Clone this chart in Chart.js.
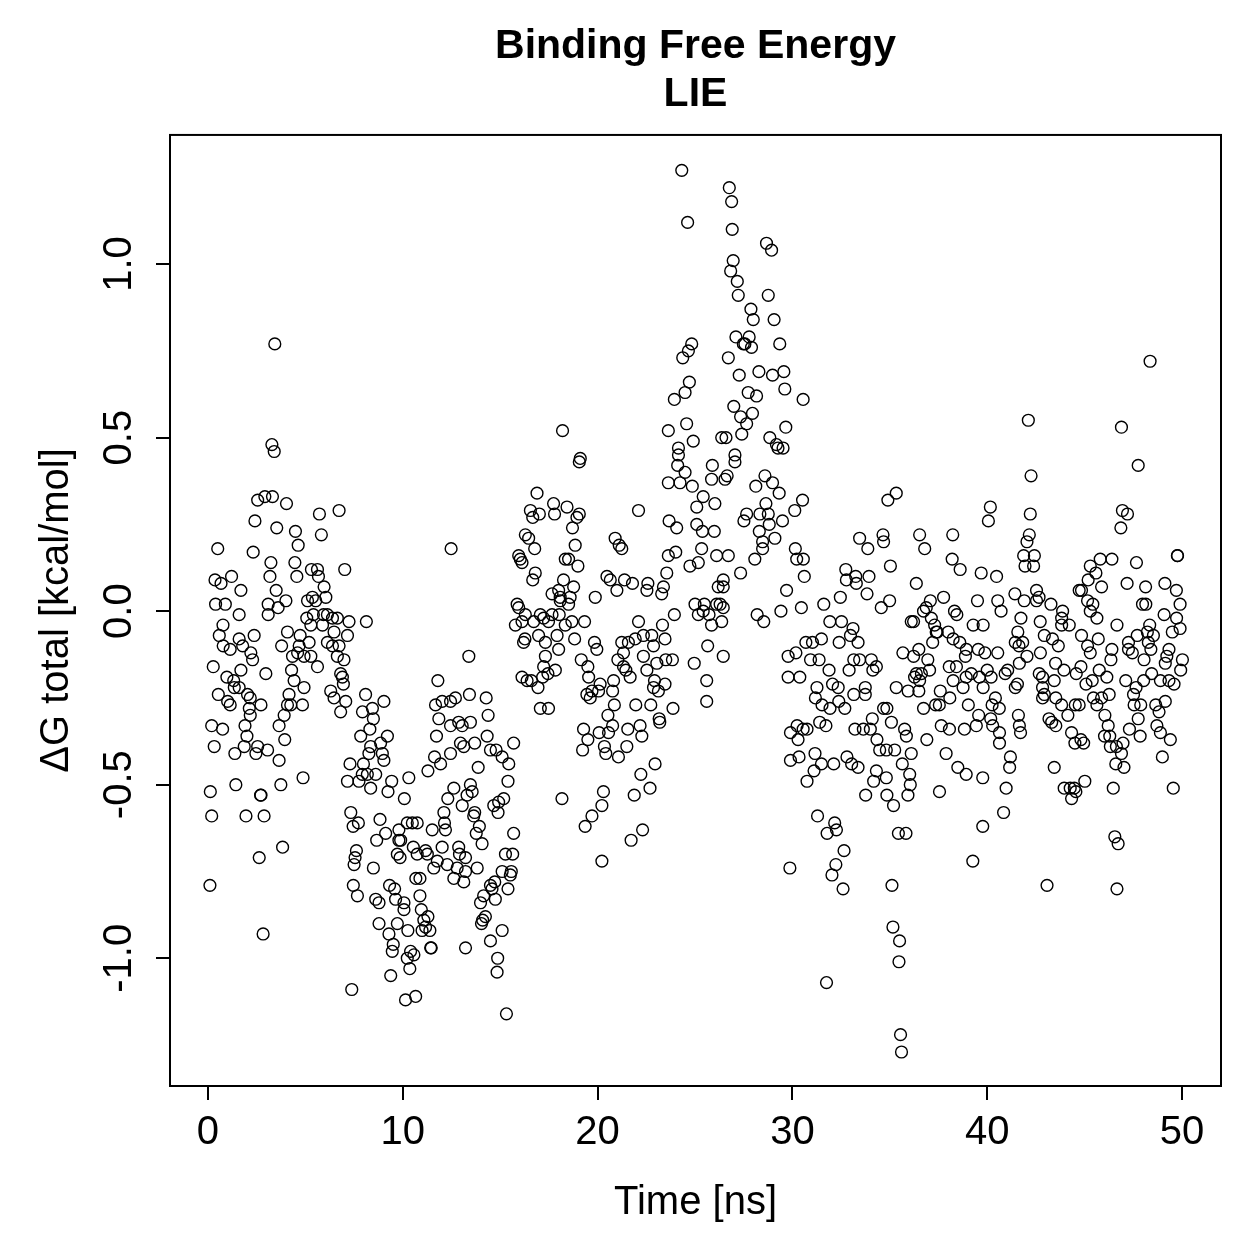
<!DOCTYPE html>
<html>
<head>
<meta charset="utf-8">
<script src="https://cdn.jsdelivr.net/npm/chart.js@4.4.0/dist/chart.umd.min.js"></script>
<style>
  html, body { margin: 0; padding: 0; background: #fff; }
</style>
</head>
<body>
<canvas id="lieChart" width="1259" height="1259"></canvas>
<script>
/* tick labels */
const xTicks = [0, 10, 20, 30, 40, 50];
const yTicks = [-1.0, -0.5, 0.0, 0.5, 1.0];

/* [time ns, dG kcal/mol], in time segments */
const seg1 = [
  [2.55,0.32],[2.92,0.33],[3.31,0.33],[4.03,0.31],[2.41,0.26],[3.53,0.24],[4.49,0.23],[5.72,0.28],[6.73,0.29],[5.82,0.22],
  [0.50,0.18],[2.32,0.17],[4.63,0.19],[12.48,0.18],[3.23,0.14],[4.46,0.14],[7.02,0.12],[3.18,0.10],[4.56,0.10],[5.31,0.12],
  [5.62,0.12],[5.67,0.10],[0.36,0.09],[0.67,0.08],[1.21,0.10],[1.69,0.06],[3.50,0.06],[4.00,0.03],[5.96,0.07],[5.36,0.04],
  [5.11,0.03],[5.53,0.03],[6.05,0.04],[0.39,0.02],[0.89,0.02],[3.09,0.02],[3.60,0.01],[1.60,-0.01],[3.09,-0.01],[5.07,-0.02],
  [5.41,-0.01],[5.93,-0.01],[6.13,-0.01],[6.39,-0.02],[6.64,-0.02],[7.24,-0.03],[8.13,-0.03],[5.28,-0.04],[5.88,-0.04],[0.77,-0.04],
  [0.58,-0.07],[2.37,-0.07],[4.08,-0.06],[4.73,-0.07],[6.47,-0.06],[7.16,-0.07],[1.60,-0.08],[5.19,-0.09],[6.13,-0.09],[6.73,-0.10],
  [0.78,-0.10],[1.14,-0.11],[1.78,-0.10],[3.78,-0.10],[4.68,-0.10],[6.39,-0.10],[2.20,-0.12],[2.29,-0.14],[4.34,-0.13],[4.60,-0.12],
  [4.93,-0.13],[5.28,-0.13],[5.62,-0.16],[6.64,-0.13],[6.98,-0.14],[0.27,-0.16],[1.69,-0.17],[2.97,-0.18],[4.29,-0.17],[0.97,-0.19],
  [1.32,-0.20],[6.81,-0.18],[6.90,-0.19],[4.42,-0.20],[4.93,-0.22],[6.95,-0.21],[11.80,-0.20],[0.53,-0.24],[1.35,-0.22],[1.60,-0.22],
  [2.03,-0.24],[1.01,-0.26],[1.14,-0.27],[2.17,-0.25],[2.12,-0.28],[2.72,-0.27],[4.16,-0.24],[6.30,-0.23],[6.47,-0.25],[7.07,-0.26],
  [8.09,-0.24],[9.03,-0.26],[4.08,-0.27],[4.25,-0.27],[4.85,-0.27],[2.17,-0.30],[3.91,-0.30],[6.81,-0.29],[7.93,-0.29],[8.44,-0.28],
  [8.49,-0.31],[11.68,-0.27],[12.02,-0.26],[12.45,-0.26],[11.85,-0.31],[12.45,-0.33],[0.19,-0.33],[0.75,-0.34],[1.90,-0.33],[3.65,-0.33],
  [2.00,-0.36],[7.84,-0.36],[8.31,-0.34],[9.21,-0.36],[8.86,-0.38],[11.73,-0.36],[0.32,-0.39],[3.94,-0.37],[1.86,-0.39],[8.35,-0.39],
  [2.55,-0.39],[3.06,-0.40],[1.38,-0.41],[2.46,-0.41],[8.95,-0.41],[8.26,-0.41],[3.65,-0.43],[7.29,-0.44],[7.98,-0.44],[9.03,-0.43],
  [11.63,-0.42],[11.94,-0.44],[12.45,-0.41],[3.43,0.77],[3.28,0.48],[3.40,0.46],
  [0.12,-0.52],[1.43,-0.50],[2.72,-0.53],[2.70,-0.53],[3.74,-0.50],[4.88,-0.48],[0.19,-0.59],[1.95,-0.59],[2.88,-0.59],[3.83,-0.68],
  [2.63,-0.71],[0.10,-0.79],[2.83,-0.93],[7.16,-0.49],[7.75,-0.49],[7.92,-0.47],[8.18,-0.47],[8.61,-0.47],[8.35,-0.51],[9.43,-0.49],
  [9.24,-0.52],[10.31,-0.48],[11.29,-0.46],[10.08,-0.54],[7.33,-0.58],[7.45,-0.62],[7.72,-0.61],[8.83,-0.60],[8.66,-0.66],[9.12,-0.64],
  [9.80,-0.63],[10.23,-0.61],[10.49,-0.61],[10.74,-0.61],[11.51,-0.63],[12.11,-0.58],[12.31,-0.54],[12.62,-0.51],[9.80,-0.66],[9.89,-0.66],
  [12.14,-0.61],[12.19,-0.63],[7.62,-0.69],[7.55,-0.71],[7.50,-0.73],[8.49,-0.74],[9.72,-0.70],[9.86,-0.71],[10.54,-0.68],[10.74,-0.70],
  [11.17,-0.69],[11.26,-0.70],[11.77,-0.72],[11.59,-0.74],[12.28,-0.73],[12.02,-0.68],[12.62,-0.77],[7.46,-0.79],[7.67,-0.82],[9.32,-0.79],
  [9.58,-0.80],[8.61,-0.83],[8.78,-0.84],[9.63,-0.83],[10.06,-0.84],[10.06,-0.86],[10.67,-0.77],[10.88,-0.77],[10.88,-0.82],[10.95,-0.86],
  [11.29,-0.88],[11.08,-0.89],[11.17,-0.91],[11.39,-0.92],[10.99,-0.92],[11.46,-0.97],[11.43,-0.97],[8.78,-0.90],[9.72,-0.90],[9.29,-0.93],
  [10.26,-0.92],[9.51,-0.96],[9.46,-0.98],[10.23,-1.00],[10.40,-0.98],[10.57,-0.99],[10.36,-1.03],[9.38,-1.05],[7.38,-1.09],[10.14,-1.12],
  [10.66,-1.11]
];

const seg2 = [
  [24.32,1.27],[24.62,1.12],[24.83,0.77],[24.66,0.75],[24.37,0.73],[24.71,0.66],[24.49,0.63],[23.94,0.61],[24.57,0.54],[23.63,0.52],
  [24.91,0.49],[18.20,0.52],[24.15,0.47],[24.15,0.45],[19.11,0.44],[19.06,0.43],[26.37,0.50],
  [16.89,0.34],[16.55,0.29],[16.67,0.27],[17.01,0.28],[17.74,0.31],[17.79,0.28],[18.43,0.30],[19.06,0.28],[18.94,0.27],[18.71,0.24],
  [22.10,0.29],[23.63,0.37],[24.23,0.37],[24.11,0.42],[24.49,0.40],[24.86,0.36],[25.42,0.33],[25.09,0.30],[25.89,0.42],[25.85,0.38],
  [26.02,0.31],[23.67,0.26],[24.06,0.24],[25.09,0.25],[25.38,0.23],[25.99,0.23],[16.29,0.22],[16.46,0.21],[16.77,0.18],[20.90,0.21],
  [21.11,0.19],[21.24,0.18],[18.85,0.19],[15.95,0.16],[16.03,0.15],[16.12,0.14],[18.34,0.15],[18.51,0.15],[18.99,0.13],[23.63,0.16],
  [24.01,0.17],[25.34,0.18],[26.11,0.16],[24.74,0.13],[25.17,0.14],[23.55,0.11],[16.80,0.11],[16.67,0.09],[18.25,0.09],[18.77,0.07],
  [17.66,0.05],[18.00,0.06],[20.48,0.10],[20.65,0.09],[20.99,0.06],[21.38,0.09],[21.79,0.08],[22.58,0.08],[22.53,0.06],[23.29,0.05],
  [23.38,0.07],[19.88,0.04],[15.87,0.02],[15.95,0.01],[18.59,0.04],[18.08,0.04],[18.08,0.03],[18.51,0.02],[17.66,-0.01],[17.06,-0.01],
  [17.23,-0.02],[16.29,-0.01],[15.78,-0.04],[16.12,-0.03],[16.72,-0.03],[17.48,-0.03],[18.03,-0.01],[18.34,-0.04],[18.68,-0.03],[19.33,-0.03],
  [22.10,-0.03],[23.33,-0.04],[23.94,-0.01],[25.00,0.02],[25.48,0.02],[25.17,-0.01],[25.72,-0.01],[25.42,0.00],[25.85,-0.04],[26.11,0.02],
  [26.19,0.07],[16.97,-0.07],[17.32,-0.09],[17.92,-0.07],[18.82,-0.08],[16.20,-0.09],[16.27,-0.08],[19.84,-0.09],[19.96,-0.11],[18.00,-0.11],
  [21.24,-0.09],[21.58,-0.09],[21.93,-0.08],[22.35,-0.07],[22.78,-0.07],[21.33,-0.12],[22.35,-0.13],[22.87,-0.10],[23.46,-0.08],[13.39,-0.13],
  [17.32,-0.13],[19.16,-0.14],[19.50,-0.16],[21.04,-0.14],[21.33,-0.16],[21.45,-0.17],[21.67,-0.19],[22.53,-0.17],[23.04,-0.15],[23.50,-0.14],
  [23.84,-0.14],[24.96,-0.15],[25.65,-0.10],[17.23,-0.16],[17.83,-0.17],[17.45,-0.18],[16.12,-0.19],[16.38,-0.20],[16.60,-0.20],[17.18,-0.19],
  [16.94,-0.22],[19.54,-0.19],[20.13,-0.21],[20.82,-0.20],[20.77,-0.23],[19.45,-0.24],[19.71,-0.23],[20.05,-0.23],[19.62,-0.25],[22.92,-0.20],
  [23.12,-0.23],[23.46,-0.21],[22.87,-0.22],[25.60,-0.20],[17.06,-0.28],[17.48,-0.28],[20.86,-0.27],[20.53,-0.30],[21.96,-0.27],[22.73,-0.27],
  [23.16,-0.31],[23.19,-0.32],[23.87,-0.28],[25.60,-0.26],[20.77,-0.33],[19.28,-0.34],[19.50,-0.37],[20.08,-0.35],[20.56,-0.35],[21.55,-0.34],
  [22.18,-0.33],[22.27,-0.36],[19.23,-0.40],[20.35,-0.39],[20.42,-0.41],[21.50,-0.39],[21.07,-0.42],[22.95,-0.44],[12.87,-0.32],[13.05,-0.33],
  [13.47,-0.32],[14.38,-0.30],[13.42,-0.24],[14.28,-0.25],[12.70,-0.25],[14.33,-0.36],[12.96,-0.38],[13.13,-0.39],[13.69,-0.38],[14.50,-0.40],
  [14.79,-0.40],[15.10,-0.42],[15.44,-0.44],[15.69,-0.38],[13.87,-0.45],
  [13.47,-0.50],[13.56,-0.52],[13.30,-0.53],[13.05,-0.56],[15.40,-0.49],[15.18,-0.54],[14.92,-0.55],[14.67,-0.56],[14.89,-0.58],[13.69,-0.58],
  [13.64,-0.59],[13.93,-0.62],[13.77,-0.64],[14.07,-0.67],[15.69,-0.64],[18.17,-0.54],[20.30,-0.52],[20.22,-0.56],[19.71,-0.59],[19.36,-0.62],
  [22.22,-0.47],[22.69,-0.51],[21.88,-0.53],[22.31,-0.63],[21.72,-0.66],[20.22,-0.72],[12.87,-0.68],[12.91,-0.70],[13.22,-0.71],[12.79,-0.74],
  [13.22,-0.75],[13.82,-0.74],[13.13,-0.78],[15.27,-0.70],[15.64,-0.70],[15.10,-0.75],[15.52,-0.76],[15.57,-0.75],[15.40,-0.80],[14.72,-0.78],
  [14.50,-0.79],[14.58,-0.80],[14.15,-0.82],[14.75,-0.83],[13.99,-0.84],[14.24,-0.88],[14.10,-0.89],[14.04,-0.90],[15.10,-0.92],[14.50,-0.95],
  [13.22,-0.97],[14.87,-1.00],[14.84,-1.04],[15.32,-1.16]
];

const seg3 = [
  [26.76,1.22],[26.88,1.18],[26.91,1.10],[28.67,1.06],[28.93,1.04],[26.96,1.01],[26.83,0.98],[27.17,0.95],[27.22,0.91],[28.76,0.91],
  [27.87,0.87],[27.99,0.84],[29.06,0.84],[27.10,0.79],[27.48,0.77],[27.78,0.79],[27.90,0.76],[27.56,0.77],[29.35,0.77],[26.71,0.73],
  [27.27,0.68],[28.28,0.69],[28.98,0.68],[29.56,0.69],[29.61,0.64],[30.55,0.61],[27.73,0.63],[28.16,0.62],[26.99,0.59],[27.95,0.57],
  [27.34,0.56],[27.65,0.54],[27.40,0.51],[29.66,0.53],[26.59,0.50],[28.84,0.50],[29.18,0.48],[29.26,0.47],[29.52,0.47],[27.05,0.45],
  [27.05,0.43],[26.65,0.39],[26.54,0.38],[28.59,0.39],[28.12,0.36],[28.98,0.37],[29.32,0.34],[30.52,0.32],[28.64,0.31],[28.33,0.28],
  [28.76,0.28],[30.12,0.29],[27.65,0.28],[27.51,0.26],[29.49,0.26],[28.81,0.25],[28.30,0.23],[29.10,0.21],[28.47,0.20],[28.47,0.18],
  [28.07,0.15],[26.71,0.16],[30.15,0.18],[30.22,0.15],[30.56,0.15],[30.61,0.10],[27.34,0.11],[26.45,0.09],[26.45,0.07],[26.29,0.02],
  [26.45,0.01],[26.37,-0.03],[29.70,0.06],[28.19,-0.01],[28.53,-0.03],[29.41,0.00],[30.46,0.01],[26.45,-0.13],[34.90,0.32],[35.33,0.34],
  [33.45,0.21],[33.87,0.18],[34.65,0.22],[34.68,0.20],[36.53,0.22],[36.79,0.18],[38.23,0.22],[38.20,0.15],[38.61,0.12],[39.69,0.11],
  [32.74,0.12],[32.77,0.09],[33.25,0.10],[33.28,0.08],[33.93,0.10],[35.03,0.13],[36.36,0.08],[33.83,0.05],[32.46,0.04],[31.61,0.02],
  [34.99,0.03],[34.56,0.01],[37.08,0.03],[37.76,0.04],[38.32,0.00],[38.44,-0.01],[39.50,0.03],[36.87,0.01],[36.73,0.00],[36.22,-0.03],
  [36.10,-0.03],[37.13,-0.02],[37.30,-0.04],[37.38,-0.06],[37.43,-0.06],[37.20,-0.09],[38.00,-0.06],[38.25,-0.08],[38.59,-0.09],[38.93,-0.11],
  [38.88,-0.13],[39.28,-0.04],[39.79,-0.04],[39.54,-0.11],[39.88,-0.12],[31.92,-0.03],[32.52,-0.03],[33.11,-0.05],[32.98,-0.07],[33.37,-0.09],
  [32.40,-0.09],[31.49,-0.08],[31.03,-0.09],[30.69,-0.09],[30.18,-0.12],[29.78,-0.13],[30.93,-0.14],[31.37,-0.14],[31.88,-0.17],[33.15,-0.14],
  [32.91,-0.17],[33.45,-0.14],[34.05,-0.14],[34.31,-0.16],[34.13,-0.17],[35.67,-0.12],[36.22,-0.13],[36.49,-0.11],[36.95,-0.14],[37.04,-0.17],
  [36.36,-0.18],[36.62,-0.18],[36.27,-0.19],[36.53,-0.20],[38.05,-0.16],[38.42,-0.16],[38.92,-0.19],[39.18,-0.18],[39.60,-0.19],[38.25,-0.20],
  [38.76,-0.22],[39.79,-0.22],[29.78,-0.19],[30.38,-0.19],[32.06,-0.21],[32.35,-0.22],[31.26,-0.22],[33.74,-0.22],[33.74,-0.24],[33.15,-0.24],
  [35.33,-0.22],[35.94,-0.23],[36.49,-0.23],[37.59,-0.23],[38.08,-0.25],[37.54,-0.27],[37.35,-0.27],[39.03,-0.27],[36.73,-0.28],[31.18,-0.25],
  [31.52,-0.27],[31.93,-0.28],[32.38,-0.26],[32.69,-0.28],[34.68,-0.28],[34.85,-0.28],[34.10,-0.31],[35.08,-0.32],[39.56,-0.30],[39.44,-0.33],
  [37.64,-0.33],[38.06,-0.34],[38.83,-0.34],[36.90,-0.37],[37.89,-0.41],[38.49,-0.45],[30.24,-0.33],[30.55,-0.34],[29.90,-0.35],[30.29,-0.37],
  [30.75,-0.34],[31.40,-0.32],[31.72,-0.33],[33.21,-0.34],[33.64,-0.34],[34.00,-0.34],[34.34,-0.37],[34.48,-0.40],[34.82,-0.40],[35.25,-0.40],
  [35.76,-0.34],[35.85,-0.36],[36.10,-0.41],[29.90,-0.43],[30.34,-0.42],[31.16,-0.41],[31.49,-0.44],[32.12,-0.44],[32.80,-0.42],[35.64,-0.44],
  [33.04,-0.44],[33.37,-0.45],
  [30.75,-0.49],[31.11,-0.46],[34.31,-0.46],[34.82,-0.48],[34.17,-0.49],[36.02,-0.47],[36.05,-0.50],[35.93,-0.53],[34.85,-0.53],[35.19,-0.56],
  [33.76,-0.53],[37.55,-0.52],[38.92,-0.47],[39.77,-0.48],[31.29,-0.59],[32.17,-0.61],[32.26,-0.63],[31.78,-0.64],[35.44,-0.64],[35.83,-0.64],
  [39.77,-0.62],[32.65,-0.69],[32.23,-0.73],[32.03,-0.76],[32.60,-0.80],[29.87,-0.74],[35.11,-0.79],[39.26,-0.72],[35.16,-0.91],[35.50,-0.95],
  [35.47,-1.01],[31.75,-1.07],[35.55,-1.22],[35.60,-1.27]
];

const seg4 = [
  [48.36,0.72],[42.11,0.55],[46.89,0.53],
  [47.75,0.42],[42.25,0.39],[40.16,0.30],[40.06,0.26],[42.21,0.28],[46.94,0.29],[47.20,0.28],[46.86,0.24],[42.16,0.22],[42.04,0.20],
  [41.87,0.16],[42.42,0.16],[41.94,0.13],[42.38,0.13],[45.80,0.15],[46.40,0.15],[47.66,0.14],[49.76,0.16],[49.77,0.16],[45.29,0.13],
  [45.58,0.11],[45.18,0.09],[45.87,0.07],[44.84,0.06],[44.72,0.06],[47.18,0.08],[48.13,0.07],[49.12,0.08],[49.71,0.06],[40.48,0.10],
  [41.42,0.05],[42.53,0.06],[42.66,0.04],[40.54,0.03],[41.90,0.03],[42.53,0.03],[43.27,0.02],[45.15,0.03],[45.42,0.02],[47.97,0.02],
  [48.14,0.02],[49.90,0.02],[40.71,0.00],[43.87,0.00],[43.82,-0.02],[45.29,0.00],[45.63,-0.02],[49.08,-0.01],[49.72,-0.02],[41.73,-0.02],
  [42.72,-0.03],[43.82,-0.04],[44.21,-0.04],[46.66,-0.04],[48.34,-0.04],[41.57,-0.06],[42.93,-0.07],[44.84,-0.07],[45.70,-0.08],[47.70,-0.07],
  [48.22,-0.06],[48.53,-0.07],[49.50,-0.06],[49.90,-0.05],[41.44,-0.09],[41.82,-0.09],[43.35,-0.08],[43.65,-0.10],[45.15,-0.10],[47.25,-0.09],
  [48.27,-0.09],[49.33,-0.11],[46.40,-0.11],[41.63,-0.10],[40.54,-0.12],[42.04,-0.13],[42.73,-0.12],[45.29,-0.12],[46.35,-0.14],[47.25,-0.11],
  [47.45,-0.12],[48.40,-0.11],[49.22,-0.13],[50.02,-0.14],[49.93,-0.17],[49.14,-0.15],[48.05,-0.14],[41.65,-0.15],[43.51,-0.15],[43.94,-0.17],
  [44.81,-0.16],[45.75,-0.17],[46.14,-0.19],[40.00,-0.17],[40.20,-0.19],[41.05,-0.17],[40.92,-0.18],[42.67,-0.18],[42.84,-0.19],[43.44,-0.20],
  [44.57,-0.18],[45.39,-0.20],[47.11,-0.20],[47.64,-0.22],[48.03,-0.20],[48.44,-0.18],[48.89,-0.20],[49.33,-0.20],[49.59,-0.21],[41.55,-0.21],
  [41.44,-0.22],[42.84,-0.22],[45.07,-0.21],[42.93,-0.24],[42.84,-0.25],[43.52,-0.25],[45.45,-0.25],[45.87,-0.25],[46.26,-0.24],[47.51,-0.24],
  [49.14,-0.26],[40.42,-0.25],[40.25,-0.27],[40.62,-0.28],[43.82,-0.27],[44.14,-0.30],[44.52,-0.27],[44.72,-0.27],[45.63,-0.27],[46.04,-0.30],
  [47.54,-0.27],[47.88,-0.27],[48.65,-0.27],[48.82,-0.29],[43.17,-0.31],[43.31,-0.32],[43.52,-0.33],[41.60,-0.30],[41.65,-0.33],[41.71,-0.35],
  [40.18,-0.31],[40.28,-0.33],[40.63,-0.35],[40.63,-0.38],[46.21,-0.33],[46.02,-0.36],[46.29,-0.36],[46.63,-0.39],[46.89,-0.41],[46.97,-0.38],
  [46.32,-0.39],[44.33,-0.35],[44.50,-0.38],[44.81,-0.37],[44.95,-0.38],[47.30,-0.34],[47.85,-0.36],[47.75,-0.31],[48.71,-0.33],[48.89,-0.35],
  [49.40,-0.37],[48.99,-0.42],[41.19,-0.42],[41.15,-0.45],[43.44,-0.45],[46.60,-0.44],[47.02,-0.45],
  [40.97,-0.51],[40.84,-0.58],[43.95,-0.51],[44.26,-0.51],[44.47,-0.51],[44.55,-0.52],[44.33,-0.54],[45.01,-0.49],[46.47,-0.51],[49.55,-0.51],
  [46.55,-0.65],[46.72,-0.67],[43.07,-0.79],[46.66,-0.80]
];

const points = [...seg1, ...seg2, ...seg3, ...seg4].map(p => ({ x: p[0], y: p[1] }));

const fontFamily = '"Liberation Sans", Arial, Helvetica, sans-serif';

/* kotak plot seperti gaya R */
const boxPlugin = {
  id: 'plotBox',
  afterDraw(chart) {
    const { ctx, chartArea: a } = chart;
    ctx.save();
    ctx.strokeStyle = '#000';
    ctx.lineWidth = 2;
    ctx.strokeRect(a.left, a.top, a.right - a.left, a.bottom - a.top);
    ctx.restore();
  }
};

new Chart(document.getElementById('lieChart').getContext('2d'), {
  type: 'scatter',
  data: {
    datasets: [{
      data: points,
      pointStyle: 'circle',
      pointRadius: 5.9,
      pointHoverRadius: 5.9,
      borderWidth: 1.4,
      borderColor: '#000',
      backgroundColor: 'transparent'
    }]
  },
  options: {
    responsive: false,
    animation: false,
    devicePixelRatio: 1,
    events: [],
    layout: { padding: { left: 0, right: 38, top: 0, bottom: 0 } },
    plugins: {
      legend: { display: false },
      tooltip: { enabled: false },
      title: {
        display: true,
        fullSize: false,
        text: ['Binding Free Energy', 'LIE'],
        color: '#000',
        font: { family: fontFamily, size: 41, weight: 'bold', lineHeight: 1.17 },
        padding: { top: 23, bottom: 16 }
      }
    },
    scales: {
      x: {
        type: 'linear',
        min: -1.95,
        max: 52,
        afterBuildTicks: s => { s.ticks = xTicks.map(v => ({ value: v })); },
        afterFit: s => { s.height = 173; },
        border: { display: false },
        grid: { drawOnChartArea: false, drawTicks: true, tickLength: 14, color: '#000', lineWidth: 2 },
        ticks: {
          color: '#000',
          maxRotation: 0,
          padding: 9,
          font: { family: fontFamily, size: 40 },
          callback: v => String(v)
        },
        title: {
          display: true,
          text: 'Time [ns]',
          color: '#000',
          font: { family: fontFamily, size: 40 },
          padding: { top: 0, bottom: 32 }
        }
      },
      y: {
        type: 'linear',
        min: -1.368,
        max: 1.372,
        afterBuildTicks: s => { s.ticks = yTicks.map(v => ({ value: v })); },
        afterFit: s => { s.width = 170; },
        border: { display: false },
        grid: { drawOnChartArea: false, drawTicks: true, tickLength: 14, color: '#000', lineWidth: 2 },
        ticks: {
          color: '#000',
          minRotation: 90,
          maxRotation: 90,
          crossAlign: 'center',
          padding: 2,
          font: { family: fontFamily, size: 40 },
          callback: v => v.toFixed(1)
        },
        title: {
          display: true,
          text: 'ΔG total [kcal/mol]',
          color: '#000',
          font: { family: fontFamily, size: 40 },
          padding: { top: 33, bottom: 0 }
        }
      }
    }
  },
  plugins: [boxPlugin]
});
</script>
</body>
</html>
